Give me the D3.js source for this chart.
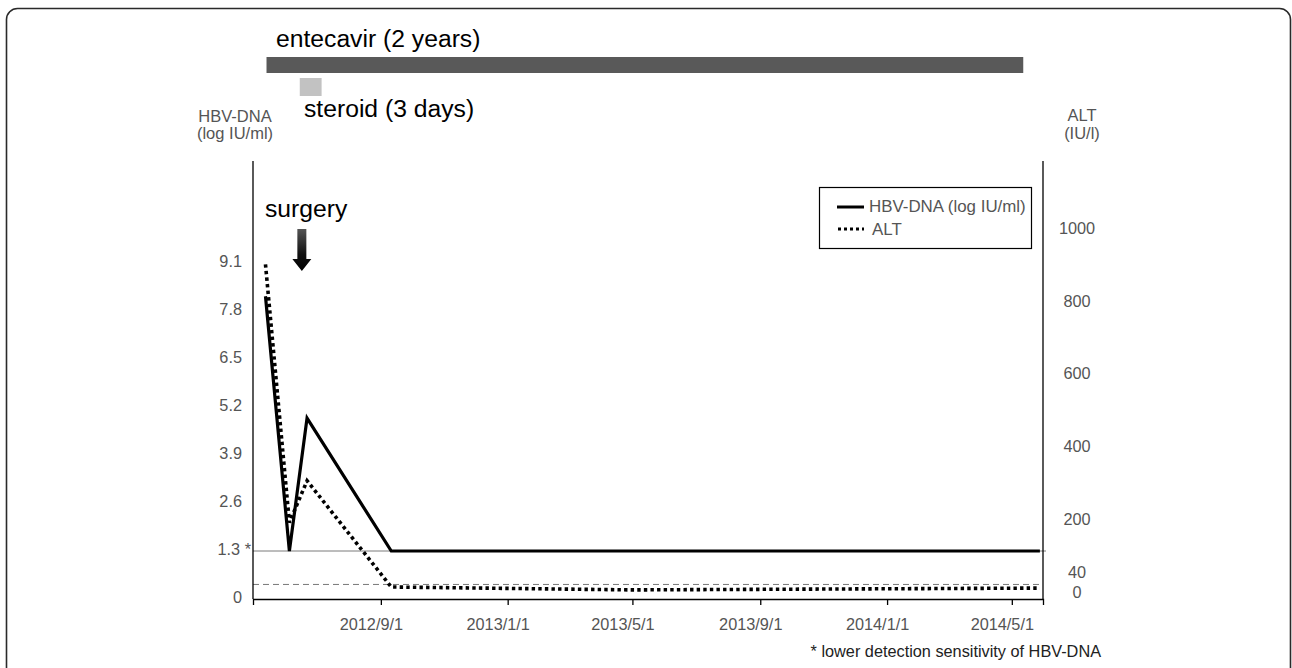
<!DOCTYPE html>
<html>
<head>
<meta charset="utf-8">
<script src="https://cdn.jsdelivr.net/npm/d3@7"></script>
<style>
  html, body { margin: 0; padding: 0; background: #fff; }
  svg { display: block; font-family: "Liberation Sans", Arial, Helvetica, sans-serif; }
</style>
</head>
<body>
<svg id="chart" width="1292" height="668"></svg>
<script>
// ---- data ----
const visitDates = ["2012-05-13", "2012-06-05", "2012-06-22", "2012-09-11", "2013-05-01", "2014-05-28"];
const hbvDna = [8.2, 1.3, 4.9, 1.3, 1.3, 1.3];        // log IU/ml
const altVals = [920, 210, 325, 33, 25, 30];          // IU/l

const leftTicks = [0, 1.3, 2.6, 3.9, 5.2, 6.5, 7.8, 9.1];
const leftTickLabels = ["0", "1.3 *", "2.6", "3.9", "5.2", "6.5", "7.8", "9.1"];
const rightTicks = [0, 40, 200, 400, 600, 800, 1000];
const xTicks = ["2012-09-01", "2013-01-01", "2013-05-01", "2013-09-01", "2014-01-01", "2014-05-01"];

const treatmentNames = ["entecavir (2 years)", "steroid (3 days)"];
const treatmentStart = ["2012-05-14", "2012-06-15"];
const treatmentEnd = ["2014-05-12", "2012-07-06"];
const surgeryDate = "2012-06-17";

const detectionLimit = 1.3;   // HBV-DNA
const altUpperNormal = 40;    // ALT

// ---- setup ----
const parse = d3.timeParse("%Y-%m-%d");
const fmt = d3.timeFormat("%Y/%-m/%-d");
const svg = d3.select("#chart");

// outer rounded frame
svg.append("rect").attr("x", 6.5).attr("y", 8.5).attr("width", 1284).attr("height", 720)
  .attr("rx", 11).attr("fill", "none").attr("stroke", "#2a2a2a").attr("stroke-width", 1.6);

const plot = { left: 253, right: 1043, top: 161, bottom: 599 };

const x = d3.scaleTime()
  .domain([parse("2012-05-01"), parse("2014-05-31")])
  .range([plot.left, plot.right]);
const yL = d3.scaleLinear().domain([0, 1]).range([plot.bottom, plot.bottom - 36.92]);
const yR = d3.scaleLinear().domain([0, 1000]).range([plot.bottom, plot.bottom - 363.8]);

// treatment bars
const barY = [57, 78];
const barH = [16, 18];
const barFill = ["#595959", "#c2c2c2"];
treatmentNames.forEach((n, i) => {
  svg.append("rect")
    .attr("x", x(parse(treatmentStart[i])))
    .attr("y", barY[i])
    .attr("width", x(parse(treatmentEnd[i])) - x(parse(treatmentStart[i])))
    .attr("height", barH[i])
    .attr("fill", barFill[i]);
});
svg.append("text").attr("x", 276).attr("y", 47).attr("font-size", 24.7).attr("fill", "#000")
  .text(treatmentNames[0]);
svg.append("text").attr("x", 304).attr("y", 117).attr("font-size", 24.7).attr("fill", "#000")
  .text(treatmentNames[1]);

// axis titles
const titleColor = "#555";
svg.append("text").attr("x", 235).attr("y", 122).attr("text-anchor", "middle")
  .attr("font-size", 16.5).attr("fill", titleColor).text("HBV-DNA");
svg.append("text").attr("x", 235).attr("y", 139).attr("text-anchor", "middle")
  .attr("font-size", 16.5).attr("fill", titleColor).text("(log IU/ml)");
svg.append("text").attr("x", 1082).attr("y", 121).attr("text-anchor", "middle")
  .attr("font-size", 16.5).attr("fill", titleColor).text("ALT");
svg.append("text").attr("x", 1082).attr("y", 139).attr("text-anchor", "middle")
  .attr("font-size", 16.5).attr("fill", titleColor).text("(IU/l)");

// reference lines
svg.append("line").attr("x1", plot.left).attr("x2", plot.right + 3)
  .attr("y1", yL(detectionLimit)).attr("y2", yL(detectionLimit))
  .attr("stroke", "#7a7a7a").attr("stroke-width", 1);
svg.append("line").attr("x1", plot.left).attr("x2", plot.right)
  .attr("y1", yR(altUpperNormal)).attr("y2", yR(altUpperNormal))
  .attr("stroke", "#777").attr("stroke-width", 1).attr("stroke-dasharray", "6,4");

// axes lines
svg.append("line").attr("x1", plot.left).attr("x2", plot.left).attr("y1", plot.top).attr("y2", plot.bottom)
  .attr("stroke", "#000").attr("stroke-width", 1.3);
svg.append("line").attr("x1", plot.right).attr("x2", plot.right).attr("y1", plot.top).attr("y2", plot.bottom)
  .attr("stroke", "#000").attr("stroke-width", 1.3);

// bottom axis
const xAxis = d3.axisBottom(x)
  .tickValues(xTicks.map(parse))
  .tickFormat(fmt)
  .tickSizeOuter(0)
  .tickSize(6);
const gx = svg.append("g").attr("transform", `translate(0,${plot.bottom})`).call(xAxis);
gx.select(".domain").attr("stroke", "#000").attr("stroke-width", 1.3);
gx.selectAll(".tick line").attr("stroke", "#000").attr("stroke-width", 1.3);
gx.selectAll(".tick text")
  .attr("font-family", "'Liberation Sans', Arial, sans-serif")
  .attr("font-size", 16.3).attr("fill", "#555")
  .attr("x", -10).attr("y", 19).attr("dy", "0.71em");

// left tick labels
svg.append("g").selectAll("text").data(leftTicks).join("text")
  .attr("x", (d, i) => i === 1 ? 251 : 242)
  .attr("y", d => yL(d) - 2)
  .attr("dy", "0.35em")
  .attr("text-anchor", "end")
  .attr("font-size", 16.3).attr("fill", "#555")
  .text((d, i) => leftTickLabels[i]);

// right tick labels
svg.append("g").selectAll("text").data(rightTicks).join("text")
  .attr("x", 1077)
  .attr("y", d => yR(d) - (d === 40 ? 12 : 7))
  .attr("dy", "0.35em")
  .attr("text-anchor", "middle")
  .attr("font-size", 16.3).attr("fill", "#555")
  .text(d => d);

// data lines
const pts = visitDates.map((d, i) => ({ date: parse(d), hbv: hbvDna[i], alt: altVals[i] }));
svg.append("path").datum(pts)
  .attr("d", d3.line().x(d => x(d.date)).y(d => yR(d.alt)))
  .attr("fill", "none").attr("stroke", "#000").attr("stroke-width", 3.6)
  .attr("stroke-dasharray", "3.4,3.2");
svg.append("path").datum(pts)
  .attr("d", d3.line().x(d => x(d.date)).y(d => yL(d.hbv)))
  .attr("fill", "none").attr("stroke", "#000").attr("stroke-width", 3.2)
  .attr("stroke-linejoin", "miter");

// surgery annotation
svg.append("text").attr("x", 265).attr("y", 217).attr("font-size", 24.7).attr("fill", "#000").text("surgery");
const defs = svg.append("defs");
const grad = defs.append("linearGradient").attr("id", "shaftGrad")
  .attr("x1", 0).attr("y1", 0).attr("x2", 0).attr("y2", 1);
grad.append("stop").attr("offset", "0%").attr("stop-color", "#555");
grad.append("stop").attr("offset", "60%").attr("stop-color", "#111");
grad.append("stop").attr("offset", "100%").attr("stop-color", "#000");
const sx = x(parse(surgeryDate));
const arrowTop = 229, headStart = 259, tip = 271;
svg.append("path")
  .attr("d", `M${sx - 4.5},${arrowTop} L${sx + 4.5},${arrowTop} L${sx + 4.5},${headStart} L${sx + 9.5},${headStart} L${sx},${tip} L${sx - 9.5},${headStart} L${sx - 4.5},${headStart} Z`)
  .attr("fill", "url(#shaftGrad)");

// legend
svg.append("rect").attr("x", 819.5).attr("y", 187.5).attr("width", 212).attr("height", 61)
  .attr("fill", "#fff").attr("stroke", "#000").attr("stroke-width", 1.2);
svg.append("line").attr("x1", 837).attr("x2", 864).attr("y1", 207).attr("y2", 207)
  .attr("stroke", "#000").attr("stroke-width", 3);
svg.append("line").attr("x1", 838).attr("x2", 864).attr("y1", 229).attr("y2", 229)
  .attr("stroke", "#000").attr("stroke-width", 3).attr("stroke-dasharray", "3,3");
svg.append("text").attr("x", 869).attr("y", 212).attr("font-size", 16.9).attr("fill", "#555")
  .text("HBV-DNA (log IU/ml)");
svg.append("text").attr("x", 872).attr("y", 235).attr("font-size", 16.9).attr("fill", "#555")
  .text("ALT");

// footnote
svg.append("text").attr("x", 1101).attr("y", 657).attr("text-anchor", "end")
  .attr("font-size", 16.3).attr("fill", "#222")
  .text("* lower detection sensitivity of HBV-DNA");
</script>
</body>
</html>
